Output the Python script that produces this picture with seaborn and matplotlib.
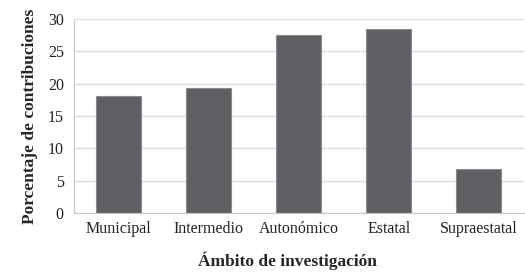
import matplotlib
matplotlib.use("Agg")
import matplotlib.pyplot as plt
import seaborn as sns
import pandas as pd
import numpy as np
from matplotlib.ticker import FixedLocator, NullFormatter

categories = ["Municipal", "Intermedio", "Autonómico", "Estatal", "Supraestatal"]
values = [18.1, 19.3, 27.5, 28.4, 6.8]
y_ticks = [0, 5, 10, 15, 20, 25, 30]

df = pd.DataFrame({"ambito": categories, "pct": values})

sns.set_style("white")
plt.rcParams["font.family"] = ["Liberation Serif", "DejaVu Serif"]

fig = plt.figure(figsize=(5.25, 2.73), dpi=100)
ax = fig.add_axes([0.14, 0.22, 0.858, 0.71])

sns.barplot(data=df, x="ambito", y="pct", color="#5f6064", width=0.5,
            edgecolor="#8a8b8e", linewidth=0.8, saturation=1, ax=ax, zorder=3)

ax.set_ylim(0, 30)
ax.set_yticks(y_ticks)
ax.set_xlim(-0.5, len(categories) - 0.5)
ax.yaxis.grid(True, color="#dcdcdc", linewidth=1.0, zorder=0)
ax.set_axisbelow(True)

for s in ["top", "right"]:
    ax.spines[s].set_visible(False)
ax.spines["left"].set_color("#c8c8c8")
ax.spines["bottom"].set_color("#c8c8c8")

# tick marks between categories on x, none under labels
ax.tick_params(axis="x", which="major", length=0, labelsize=11.5, colors="#222222", pad=6)
ax.xaxis.set_minor_locator(FixedLocator(np.arange(-0.5, len(categories), 1.0)))
ax.xaxis.set_minor_formatter(NullFormatter())
ax.tick_params(axis="x", which="minor", length=4, color="#c8c8c8", direction="out")
ax.tick_params(axis="y", length=4, color="#c8c8c8", labelsize=11.5, colors="#222222", pad=3)

ax.set_xlabel("Ámbito de investigación", fontsize=12.5, fontweight="bold")
ax.xaxis.set_label_coords(0.476, -0.2)
ax.set_ylabel("Porcentaje de contribuciones", fontsize=12.5, fontweight="bold", labelpad=7)

fig.savefig("out.png", dpi=100)
